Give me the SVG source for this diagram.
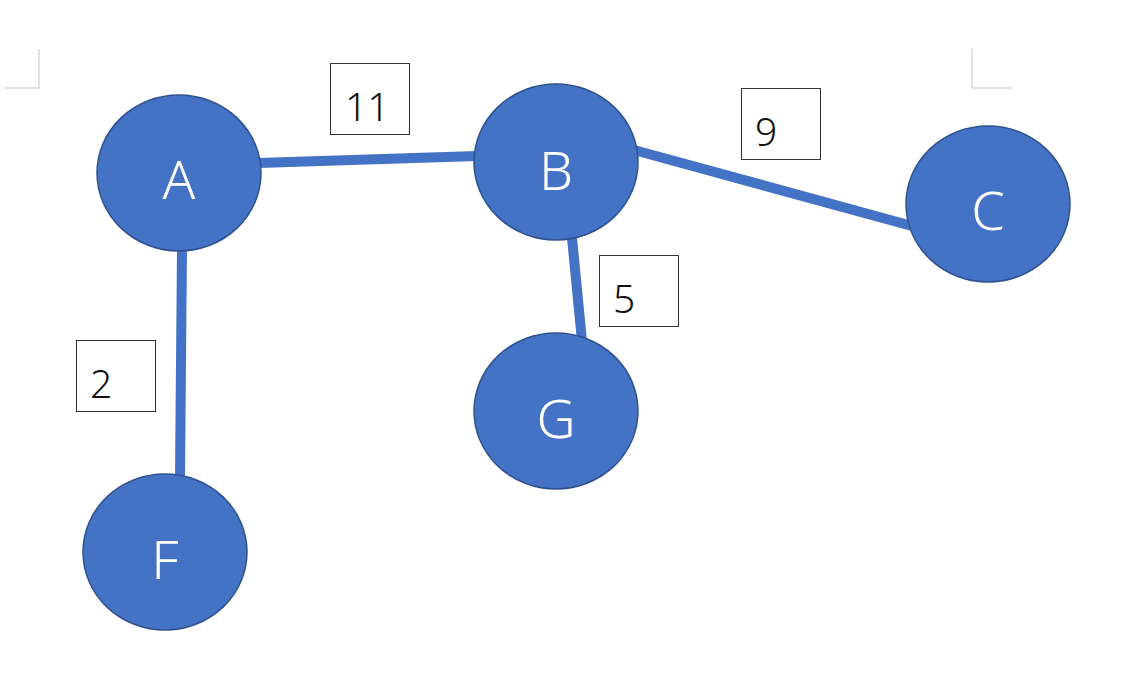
<svg xmlns="http://www.w3.org/2000/svg" width="1136" height="673" viewBox="0 0 1136 673">
<style>
.node ellipse{fill:#4472C4;stroke:#2F528F;stroke-width:1.5}
.node text{fill:#fff;font-family:"Noto Sans","Open Sans",sans-serif;font-weight:300;font-size:54px;text-anchor:middle}
.edge{stroke:#4472C4;stroke-width:10;fill:none}
.lbl rect{fill:#fff;stroke:#333;stroke-width:1}
.lbl text{fill:#111;font-family:"Noto Sans","Open Sans",sans-serif;font-weight:300;font-size:39px}
.crop{stroke:#d9d9d9;stroke-width:1.5;fill:none}
</style>
<rect width="1136" height="673" fill="#fff"/>
<path class="crop" d="M39 49V88H5"/>
<path class="crop" d="M972 49V88H1012"/>
<g id="connectors">
<line class="edge" x1="258" y1="163" x2="477" y2="156"/>
<line class="edge" x1="634" y1="150" x2="912" y2="226"/>
<line class="edge" x1="572" y1="238" x2="582" y2="341"/>
<line class="edge" x1="182" y1="248" x2="180" y2="478"/>
</g>
<g id="labels">
<g class="lbl" id="label-11"><rect x="330.5" y="63.5" width="79" height="71"/><text x="345" y="121">11</text></g>
<g class="lbl" id="label-9"><rect x="741.5" y="88.5" width="79" height="71"/><text x="755" y="146">9</text></g>
<g class="lbl" id="label-5"><rect x="599.5" y="255.5" width="79" height="71"/><text x="613" y="313">5</text></g>
<g class="lbl" id="label-2"><rect x="76.5" y="340.5" width="79" height="71"/><text x="90" y="398">2</text></g>
</g>
<g class="node" id="node-A"><ellipse cx="179" cy="173" rx="82" ry="78"/><text x="179" y="199">A</text></g>
<g class="node" id="node-B"><ellipse cx="556" cy="162" rx="82" ry="78"/><text x="556" y="190">B</text></g>
<g class="node" id="node-C"><ellipse cx="988" cy="204" rx="82" ry="78"/><text x="988" y="230">C</text></g>
<g class="node" id="node-G"><ellipse cx="556" cy="411" rx="82" ry="78"/><text x="556" y="438">G</text></g>
<g class="node" id="node-F"><ellipse cx="165" cy="552" rx="82" ry="78"/><text x="165" y="579">F</text></g>
</svg>
